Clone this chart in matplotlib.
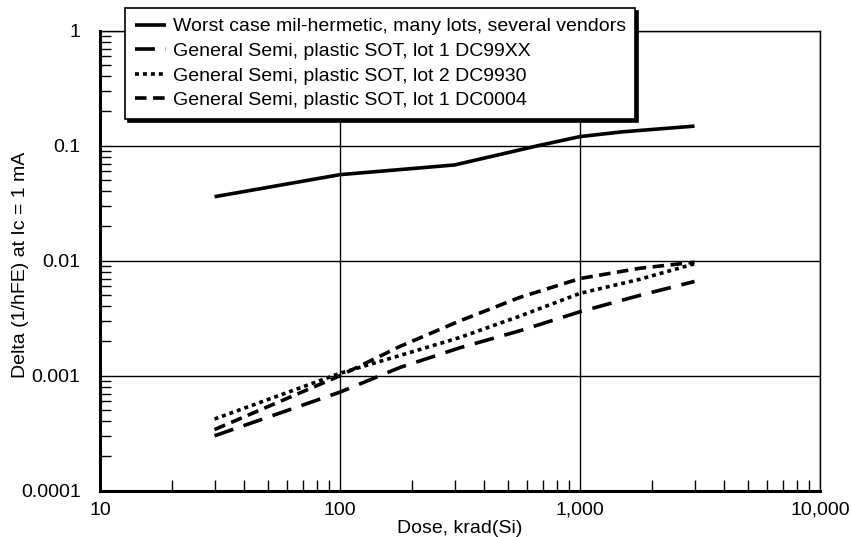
import matplotlib
matplotlib.use("Agg")
import matplotlib.pyplot as plt
from matplotlib.ticker import FixedLocator, LogLocator, NullFormatter, FixedFormatter

plt.rcParams['font.family'] = ['Liberation Sans', 'DejaVu Sans']

# Data
dose_solid = [30, 100, 300, 668, 1000, 1500, 3000]
worst_case = [0.036, 0.056, 0.068, 0.100, 0.120, 0.132, 0.148]

dose = [30, 100, 178, 316, 562, 1000, 1778, 3000]
lot1_dc99xx = [0.00030, 0.00072, 0.00118, 0.00175, 0.00246, 0.0036, 0.0050, 0.0066]
lot2_dc9930 = [0.00042, 0.00105, 0.00150, 0.00215, 0.0033, 0.0052, 0.0069, 0.0094]
lot1_dc0004 = [0.00034, 0.00100, 0.00180, 0.0030, 0.0048, 0.0070, 0.0086, 0.0097]

labels = ["Worst case mil-hermetic, many lots, several vendors",
          "General Semi, plastic SOT, lot 1 DC99XX",
          "General Semi, plastic SOT, lot 2 DC9930",
          "General Semi, plastic SOT, lot 1 DC0004"]

x_ticks = [10, 100, 1000, 10000]
x_ticklabels = ["10", "100", "1,000", "10,000"]
y_ticks = [0.0001, 0.001, 0.01, 0.1, 1]
y_ticklabels = ["0.0001", "0.001", "0.01", "0.1", "1"]

fig = plt.figure(figsize=(8.52, 5.37), dpi=100)
ax = fig.add_axes([100/852, 1-490.7/537, 720/852, (490.7-30.7)/537])

lw = 2.6
ax.plot(dose_solid, worst_case, color='black', lw=lw, solid_capstyle='butt', label=labels[0])
ax.plot(dose, lot1_dc99xx, color='black', lw=lw, dashes=(5.5, 3.0), label=labels[1])
ax.plot(dose, lot2_dc9930, color='black', lw=lw, dashes=(1.1, 1.1), label=labels[2])
ax.plot(dose, lot1_dc0004, color='black', lw=lw, dashes=(3.2, 1.8), label=labels[3])

ax.set_xscale('log')
ax.set_yscale('log')
ax.set_xlim(10, 10000)
ax.set_ylim(0.0001, 1)

ax.xaxis.set_major_locator(FixedLocator(x_ticks))
ax.xaxis.set_major_formatter(FixedFormatter(x_ticklabels))
ax.yaxis.set_major_locator(FixedLocator(y_ticks))
ax.yaxis.set_major_formatter(FixedFormatter(y_ticklabels))
ax.xaxis.set_minor_locator(LogLocator(base=10, subs=range(2, 10), numticks=20))
ax.yaxis.set_minor_locator(LogLocator(base=10, subs=range(2, 10), numticks=20))
ax.xaxis.set_minor_formatter(NullFormatter())
ax.yaxis.set_minor_formatter(NullFormatter())

ax.grid(True, which='major', color='black', lw=1.0)
ax.tick_params(which='both', direction='in', top=False, right=False,
               labelsize=14, color='black')
ax.tick_params(axis='y', which='major', length=0, pad=14)
ax.tick_params(axis='x', which='major', length=0, pad=8)
ax.tick_params(which='minor', length=8, width=1.0)

for side in ['left', 'bottom']:
    ax.spines[side].set_linewidth(2.2)
for side in ['top', 'right']:
    ax.spines[side].set_linewidth(1.0)

ax.set_xlabel("Dose, krad(Si)", fontsize=14, labelpad=1)
ax.set_ylabel("Delta (1/hFE) at Ic = 1 mA", fontsize=14)
ax.yaxis.set_label_coords(-0.099, 0.49)

leg = fig.legend(loc='upper left', bbox_to_anchor=(125/852, 1-8/537),
                 bbox_transform=fig.transFigure, borderaxespad=0,
                 fontsize=14, frameon=True, fancybox=False,
                 edgecolor='black', framealpha=1, handlelength=1.6,
                 handletextpad=0.35, labelspacing=0.36, borderpad=0.5,
                 shadow={'facecolor': 'black', 'edgecolor': 'black', 'alpha': 1})
leg.get_frame().set_linewidth(1.2)

fig.savefig("out.png", dpi=100)
